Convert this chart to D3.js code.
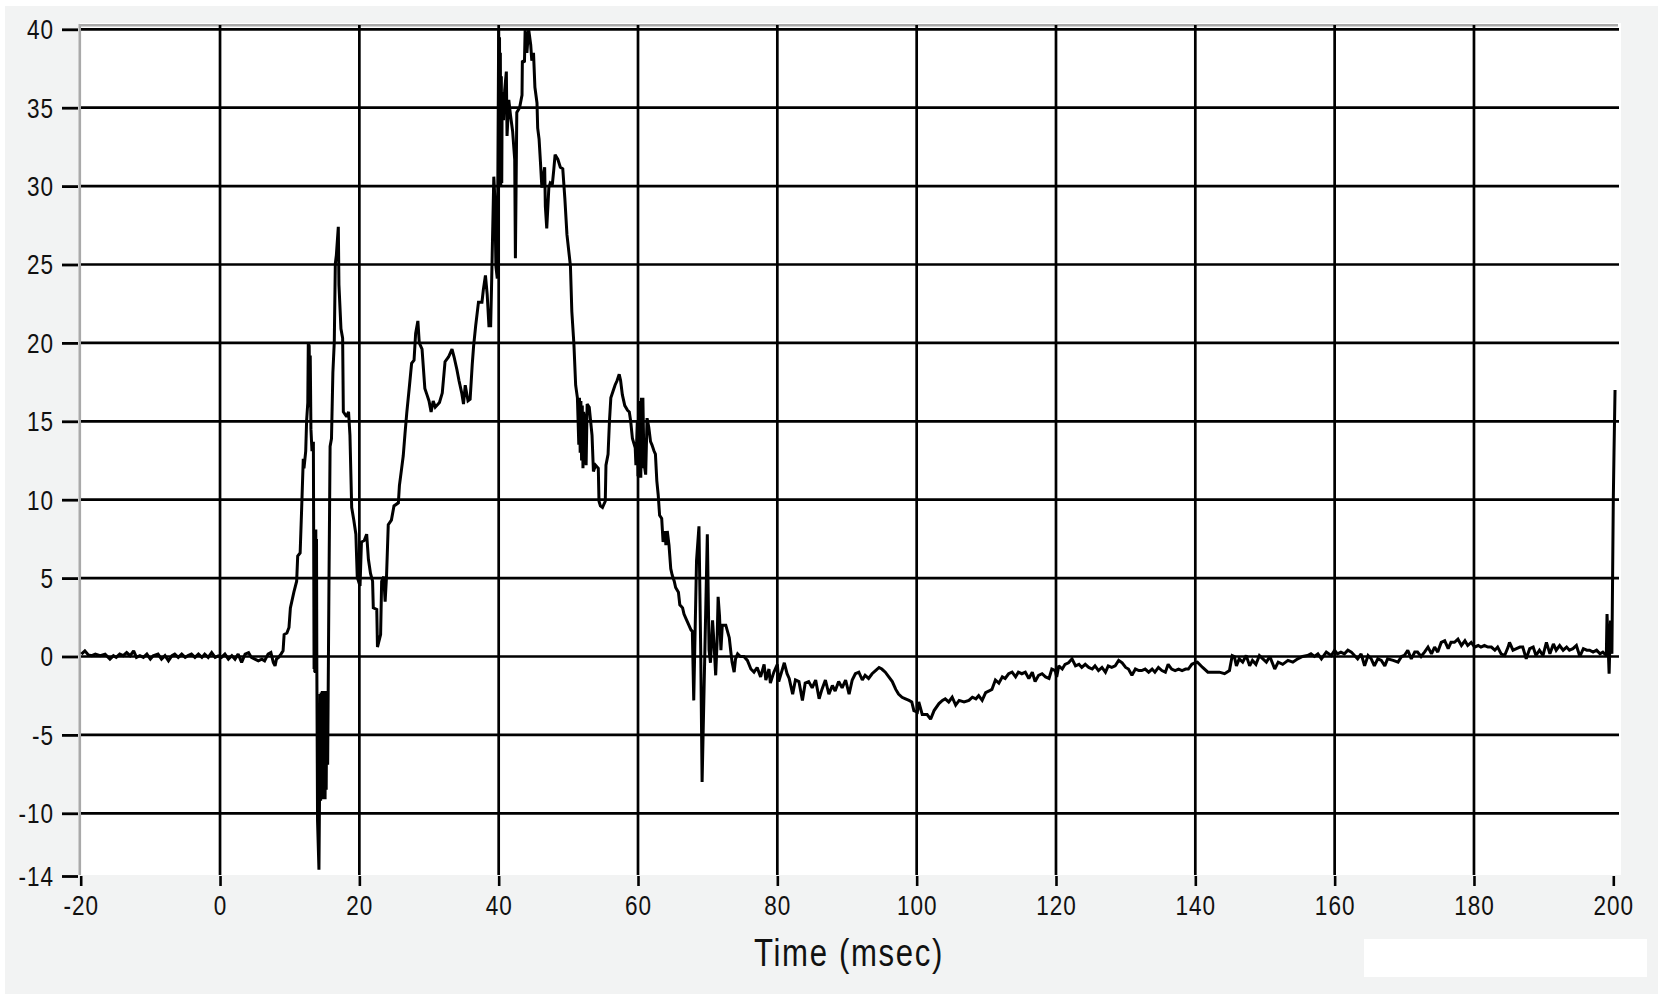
<!DOCTYPE html>
<html>
<head>
<meta charset="utf-8">
<script src="https://cdn.jsdelivr.net/npm/d3@7"></script>
<style>
  html, body { margin: 0; padding: 0; background: #ffffff; }
  svg { display: block; }
  text { font-family: "Liberation Sans", Arial, sans-serif; fill: #111; }
</style>
</head>
<body>
<svg id="chart" width="1658" height="994"></svg>
<script>
// ---- data ----
const timeMs = [
  -19.9,-19.4,-18.9,-18.4,-17.9,-17.2,-16.5,-15.8,-15.3,-14.9,-14.4,-13.9,-13.4,-12.9,-12.4,-12.0,-11.5,-11.0,-10.5,-10.0,
  -9.6,-8.9,-8.4,-7.9,-7.4,-6.9,-6.5,-6.0,-5.5,-5.0,-4.6,-4.1,-3.6,-3.1,-2.6,-2.2,-1.7,-1.2,-0.7,-0.25,
  0.2,0.7,1.2,1.7,2.15,2.6,3.1,3.6,4.1,4.5,5.0,5.5,6.0,6.4,6.9,7.3,7.65,7.9,8.1,8.4,8.75,9.05,
  9.2,9.6,9.9,10.1,10.6,11.0,11.15,11.5,11.7,11.95,12.05,12.3,12.43,12.6,12.67,12.8,12.88,12.95,13.05,13.2,13.4,
  13.5,13.55,13.6,13.65,13.7,13.75,13.8,13.85,13.9,14.0,14.2,14.28,14.36,14.44,14.52,14.6,14.68,14.76,14.84,14.92,15.0,15.08,15.16,15.24,15.32,15.45,15.64,15.8,16.0,16.2,16.4,
  16.55,16.7,16.98,17.07,17.36,17.6,17.7,18.17,18.45,18.65,18.9,19.2,19.5,19.7,20.1,20.3,20.7,21.05,21.3,21.6,21.9,
  22.0,22.5,22.6,23.05,23.2,23.5,23.7,23.9,24.15,24.6,24.97,25.6,25.75,26.07,26.3,26.55,26.8,27.2,27.5,27.85,28.08,
  28.4,28.6,29.0,29.4,29.7,30.0,30.3,30.6,30.9,31.5,31.9,32.3,32.8,33.3,33.6,34.0,34.3,34.7,34.95,35.2,35.6,35.9,
  36.2,36.4,36.7,37.1,37.6,37.8,38.1,38.35,38.6,38.85,39.0,39.3,39.45,39.6,39.8,40.0,40.06,40.12,40.18,40.24,40.3,40.38,40.44,40.5,40.7,40.86,
  41.1,41.2,41.45,41.7,42.0,42.3,42.4,42.6,43.0,43.35,43.4,43.7,43.8,44.05,44.3,44.6,44.75,45.0,45.2,45.5,45.6,45.8,
  46.0,46.2,46.6,46.7,46.9,47.2,47.4,47.7,47.9,48.1,48.5,48.85,49.2,49.5,49.8,50.3,50.5,50.8,51.05,51.3,51.5,51.6,51.7,
  51.8,51.9,52.0,52.1,52.2,52.3,52.45,52.55,52.7,53.0,53.4,53.6,53.9,54.3,54.4,54.6,54.9,55.3,55.4,55.7,55.9,56.1,56.4,56.7,57.0,57.3,
  57.5,57.75,58.1,58.5,58.75,58.95,59.2,59.6,59.7,59.9,60.0,60.1,60.2,60.3,60.4,60.5,60.6,60.7,60.85,61.1,61.3,61.55,61.8,62.0,62.3,62.5,
  62.7,62.9,63.1,63.4,63.6,63.9,64.0,64.2,64.45,64.7,64.9,65.2,65.4,65.8,66.0,66.4,66.6,66.9,67.3,67.6,67.8,
  68.0,68.4,68.75,69.0,69.2,69.6,69.95,70.2,70.4,70.7,70.9,71.15,71.35,71.5,71.7,71.9,72.1,72.6,73.1,73.35,73.5,
  73.8,74.0,74.3,74.7,75.2,75.7,76.2,76.65,77.1,77.6,78.1,78.35,78.8,79.0,79.5,80.0,80.2,81.0,81.4,81.7,82.2,82.6,
  83.1,83.6,84.0,84.5,85.0,85.5,86.0,86.4,86.9,87.4,87.9,88.3,88.8,89.3,89.8,90.3,90.75,91.2,91.7,92.2,92.6,93.1,
  93.6,94.1,94.6,95.0,95.5,96.0,96.5,97.0,97.4,97.9,98.4,98.9,99.3,99.6,100.1,100.3,100.8,101.5,102.0,102.5,103.2,
  103.7,104.1,104.6,105.1,105.6,106.1,106.8,107.5,108.0,108.5,108.9,109.4,109.9,110.4,110.8,111.3,111.8,112.3,112.7,
  113.2,113.7,114.2,114.6,115.1,115.6,116.1,116.6,117.0,117.5,118.0,118.5,119.0,119.4,119.9,120.1,120.4,120.9,121.3,
  121.8,122.3,122.8,123.3,123.7,124.2,124.7,125.2,125.6,126.1,126.6,127.1,127.5,128.0,128.5,129.0,129.5,130.0,130.4,
  130.9,131.4,131.9,132.3,132.8,133.3,133.8,134.2,134.7,135.2,135.7,136.1,136.6,137.1,137.6,138.1,138.6,139.0,139.5,
  140.0,140.3,141.05,141.8,142.5,143.45,144.2,144.9,145.3,145.6,145.9,146.3,146.8,147.3,147.8,148.2,148.7,149.2,149.7,
  150.2,150.7,151.4,151.9,152.55,153.3,154.0,154.7,155.4,156.1,156.6,157.1,157.6,158.1,158.8,159.5,160.0,160.4,160.9,
  161.4,161.9,162.4,162.85,163.3,163.8,164.3,164.8,165.25,165.7,166.2,166.7,167.2,167.6,168.4,169.1,169.6,170.0,170.5,
  171.0,171.5,171.9,172.4,172.9,173.4,173.9,174.35,174.8,175.3,175.8,176.3,176.7,177.2,177.7,178.2,178.7,179.1,179.6,
  180.1,180.6,181.0,181.5,182.0,182.5,183.0,183.4,183.9,184.4,184.9,185.1,185.6,186.1,186.6,187.0,187.5,188.0,188.5,
  188.9,189.4,189.9,190.4,190.9,191.4,191.8,192.3,192.8,193.3,193.7,194.2,194.7,195.2,195.7,196.2,196.6,197.1,197.6,
  198.1,198.5,199.0,199.1,199.4,199.6,199.8,200.0,200.1,200.25
];
const signal = [
  0.15,0.36,0.1,0.05,0.15,0.05,0.15,-0.17,0.05,-0.06,0.15,0.05,0.25,0.05,0.36,-0.06,0.05,-0.06,0.15,-0.17,
  0.04,0.15,-0.17,0.05,-0.28,0.05,0.15,-0.06,0.15,-0.06,0.05,0.15,-0.06,0.15,-0.06,0.15,-0.06,0.25,-0.06,0.04,
  -0.06,0.15,-0.17,0.05,-0.17,0.15,-0.38,0.15,0.25,-0.06,-0.17,-0.28,-0.17,-0.28,0.15,0.25,-0.38,-0.6,-0.17,-0.06,0.15,0.36,
  1.4,1.5,1.85,3.1,4.1,4.8,6.4,6.6,9.2,12.6,12.0,13.1,15.05,16.2,20.0,19.8,15.9,19.2,14.5,13.1,13.7,
  -0.8,8.1,-1.0,8.0,-1.05,8.1,-1.0,7.5,-1.05,-10.5,-13.6,-9.1,-2.4,-9.2,-2.3,-9.1,-2.2,-9.1,-2.2,-9.0,-2.3,-9.1,-2.2,-8.5,-2.4,-6.9,4.8,13.4,13.9,18.1,20.05,
  25.05,25.6,27.4,23.7,20.9,20.3,15.6,15.3,15.6,14.1,9.5,8.7,7.8,5.05,4.5,7.3,7.4,7.8,6.2,5.3,4.8,
  3.1,3.0,0.6,1.4,4.8,5.1,3.5,5.1,8.4,8.7,9.6,9.8,10.9,12.0,12.8,14.2,15.5,17.3,18.7,18.9,20.6,
  21.4,20.0,19.6,17.1,16.7,16.3,15.6,16.3,15.9,16.2,16.8,18.8,19.1,19.6,19.1,18.3,17.6,16.8,16.1,17.3,16.3,16.4,
  18.6,19.8,21.1,22.6,22.6,23.4,24.3,23.1,21.1,21.1,24.1,30.6,29.2,24.9,24.1,40.0,30.5,39.5,30.0,38.5,30.0,37.0,30.2,36.0,34.2,36.1,
  37.3,33.2,35.5,34.5,33.5,31.7,25.4,34.7,35.0,35.8,38.0,37.9,40.0,38.5,40.0,39.0,38.0,38.5,36.3,35.3,33.7,33.0,
  31.5,29.9,31.2,28.7,27.3,29.9,30.2,30.1,31.0,32.0,31.7,31.2,31.1,29.2,26.9,24.9,22.0,19.9,17.3,16.5,13.5,16.5,13.0,
  16.3,12.5,16.0,12.0,15.6,12.3,15.5,12.2,16.1,15.9,14.1,11.8,12.2,12.0,9.9,9.6,9.5,9.9,12.2,12.9,15.0,16.5,16.9,17.3,17.6,18.0,
  17.6,16.7,16.0,15.7,15.6,15.0,13.9,13.3,12.2,15.0,11.5,16.3,11.4,16.0,11.4,16.5,12.0,16.5,12.4,11.6,15.2,14.6,13.7,13.5,13.1,12.9,
  11.2,10.3,9.0,8.8,7.3,8.0,7.1,8.0,7.1,5.6,5.2,4.8,4.4,4.1,3.3,3.1,2.7,2.4,2.0,1.7,1.6,
  -2.8,6.1,8.3,0.4,-8.0,0.4,7.8,0.4,-0.4,2.3,0.9,-1.2,0.9,3.8,2.6,0.4,2.0,2.0,1.2,0.2,-0.36,
  -1.0,-0.15,0.17,0.0,0.0,-0.25,-0.8,-1.0,-0.7,-1.3,-0.5,-1.5,-0.8,-1.7,-1.0,-0.5,-1.6,-0.4,-1.1,-1.4,-2.4,-1.5,
  -1.6,-2.8,-1.7,-1.6,-2.0,-1.5,-2.7,-2.1,-1.5,-2.4,-1.85,-2.2,-1.6,-2.0,-1.5,-2.4,-1.5,-1.1,-1.0,-1.5,-1.2,-1.4,
  -1.1,-0.9,-0.7,-0.8,-1.0,-1.3,-1.6,-2.1,-2.4,-2.6,-2.7,-2.8,-2.9,-3.45,-3.55,-2.9,-3.7,-3.7,-4.0,-3.45,-3.0,
  -2.8,-2.7,-2.9,-2.6,-3.1,-2.8,-2.9,-2.8,-2.6,-2.7,-2.5,-2.8,-2.3,-2.2,-2.1,-1.5,-1.7,-1.3,-1.4,
  -1.1,-1.0,-1.3,-1.0,-1.1,-1.0,-1.4,-1.0,-1.6,-1.2,-1.1,-1.3,-1.4,-0.8,-0.9,-1.3,-0.6,-0.8,-0.5,
  -0.4,-0.15,-0.6,-0.5,-0.7,-0.5,-0.7,-0.8,-0.6,-0.9,-0.7,-1.0,-0.6,-0.7,-0.6,-0.25,-0.4,-0.7,-0.8,
  -1.2,-0.8,-0.9,-0.9,-0.8,-1.0,-0.8,-1.0,-0.7,-0.9,-1.0,-0.5,-0.8,-0.9,-0.8,-0.9,-0.8,-0.8,-0.5,
  -0.4,-0.36,-0.7,-1.0,-1.0,-1.0,-1.1,-0.9,0.06,0.0,-0.6,-0.15,-0.36,0.06,-0.6,-0.25,-0.5,0.06,-0.15,
  -0.36,0.0,-0.8,-0.36,-0.5,-0.25,-0.36,-0.15,0.0,0.06,0.17,0.0,0.17,-0.15,0.28,0.06,0.4,0.17,0.28,
  0.17,0.4,0.28,0.06,-0.15,0.17,-0.6,0.06,-0.15,-0.6,-0.15,-0.25,-0.6,-0.15,-0.25,-0.36,0.0,0.06,0.4,
  -0.15,0.28,0.28,0.0,0.28,0.6,0.17,0.6,0.28,0.9,1.0,0.5,0.9,0.9,1.1,0.7,1.0,0.7,0.9,
  0.6,0.7,0.6,0.7,0.6,0.6,0.4,0.6,0.17,0.06,0.6,0.9,0.4,0.5,0.6,0.6,-0.15,0.5,0.6,
  0.06,0.4,0.06,0.9,0.17,0.8,0.4,0.7,0.4,0.6,0.4,0.5,0.7,0.0,0.5,0.4,0.4,0.28,0.4,
  0.17,0.28,0.06,2.7,-1.1,2.3,0.17,10.0,13.0,17.0
];
const xTickValues = [-20, 0, 20, 40, 60, 80, 100, 120, 140, 160, 180, 200];
const xGridValues = [0, 20, 40, 60, 80, 100, 120, 140, 160, 180];
const yTickValues = [-14, -10, -5, 0, 5, 10, 15, 20, 25, 30, 35, 40];
const yGridValues = [-10, -5, 0, 5, 10, 15, 20, 25, 30, 35, 40];
const xAxisTitle = "Time (msec)";

// ---- layout ----
const W = 1658, H = 994;
const plot = { left: 80, right: 1621, top: 23, bottom: 875 };
const NARROW = 0.82; // emulate a narrow sans face
const svg = d3.select("#chart");

const x = d3.scaleLinear().domain([-20, 200]).range([80.7, 1613.3]);
const y = d3.scaleLinear().domain([-14, 40]).range([876, 29.3]);

// backgrounds
svg.append("rect").attr("x", 0).attr("y", 0).attr("width", W).attr("height", H).attr("fill", "#ffffff");
svg.append("rect").attr("x", 5).attr("y", 6).attr("width", W - 5).attr("height", H - 6).attr("fill", "#f2f3f3");
svg.append("rect").attr("x", plot.left).attr("y", plot.top)
  .attr("width", plot.right - plot.left).attr("height", plot.bottom - plot.top).attr("fill", "#ffffff");

// frame (grey, left + top)
svg.append("line").attr("x1", 79.8).attr("x2", 79.8).attr("y1", 24).attr("y2", plot.bottom)
  .attr("stroke", "#a9a9a9").attr("stroke-width", 2.6);
svg.append("line").attr("x1", 79).attr("x2", 1618).attr("y1", 25.2).attr("y2", 25.2)
  .attr("stroke", "#a9a9a9").attr("stroke-width", 2.6);

// grid
const grid = svg.append("g");
grid.selectAll("line.h").data(yGridValues).join("line").attr("class", "h")
  .attr("x1", 81).attr("x2", 1619).attr("y1", d => y(d)).attr("y2", d => y(d))
  .attr("stroke", "#000").attr("stroke-width", 2.7);
grid.selectAll("line.v").data(xGridValues).join("line").attr("class", "v")
  .attr("x1", d => x(d)).attr("x2", d => x(d)).attr("y1", 25).attr("y2", plot.bottom)
  .attr("stroke", "#000").attr("stroke-width", 2.7);

// y axis ticks (d3 axis for tick marks)
const yAxis = d3.axisLeft(y).tickValues(yTickValues).tickSize(16).tickFormat("");
const gy = svg.append("g").attr("transform", "translate(78,0)").call(yAxis);
gy.select(".domain").remove();
gy.selectAll(".tick line").attr("stroke", "#000").attr("stroke-width", 2.8);
// y labels (narrow)
svg.append("g").selectAll("g").data(yTickValues).join("g")
  .attr("transform", d => `translate(54,${y(d)})`)
  .append("text").attr("transform", `scale(${NARROW},1)`)
  .attr("text-anchor", "end").attr("dy", "0.36em")
  .attr("font-size", 27.5).attr("letter-spacing", "1.2px")
  .text(d => String(d));

// x axis ticks
const xAxis = d3.axisBottom(x).tickValues(xTickValues).tickSize(10).tickFormat("");
const gx = svg.append("g").attr("transform", "translate(0,876)").call(xAxis);
gx.select(".domain").remove();
gx.selectAll(".tick line").attr("stroke", "#000").attr("stroke-width", 2.6);
// x labels (narrow)
svg.append("g").selectAll("g").data(xTickValues).join("g")
  .attr("transform", d => `translate(${x(d) + 0.5},915)`)
  .append("text").attr("transform", `scale(${NARROW},1)`)
  .attr("text-anchor", "middle")
  .attr("font-size", 27.5).attr("letter-spacing", "1.2px")
  .text(d => String(d));

// axis title
svg.append("g").attr("transform", "translate(849,966)")
  .append("text").attr("transform", `scale(${NARROW},1)`).attr("text-anchor", "middle")
  .attr("font-size", 38).attr("letter-spacing", "2px").text(xAxisTitle);

// white box at bottom right
svg.append("rect").attr("x", 1364).attr("y", 939).attr("width", 283).attr("height", 38).attr("fill", "#ffffff");

// data line
const n = Math.min(timeMs.length, signal.length);
const data = d3.range(n).map(i => ({ t: timeMs[i], v: signal[i] }));
const line = d3.line().x(d => x(d.t)).y(d => y(d.v));
svg.append("path").datum(data).attr("d", line)
  .attr("fill", "none").attr("stroke", "#000").attr("stroke-width", 3)
  .attr("stroke-linejoin", "miter").attr("stroke-miterlimit", 2);
</script>
</body>
</html>
